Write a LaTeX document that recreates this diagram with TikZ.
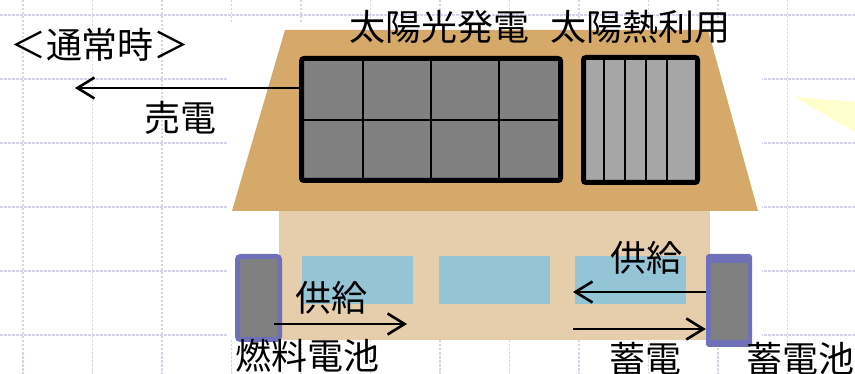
\documentclass[tikz,border=0pt]{standalone}
\usepackage{fontspec}
\newfontfamily\jpfont{Noto Sans CJK JP}
\usetikzlibrary{arrows.meta}
\definecolor{gridline}{RGB}{212,212,238}
\definecolor{roof}{RGB}{212,169,106}
\definecolor{wall}{RGB}{230,206,172}
\definecolor{glass}{RGB}{148,197,215}
\definecolor{cellrim}{RGB}{112,112,184}
\definecolor{cellbody}{RGB}{128,128,128}
\definecolor{pvgray}{RGB}{128,128,128}
\definecolor{heatgray}{RGB}{166,166,166}
\definecolor{beam}{RGB}{255,255,204}

\begin{document}
\begin{tikzpicture}[x=1pt,y=-1pt,
  lbl/.style={inner sep=0pt, font=\jpfont\fontsize{36}{40}\selectfont},
  flow/.style={line width=2.6pt, -{Straight Barb[length=17pt,width=21pt]}},
  gridln/.style={gridline, line width=1.6pt, dash pattern=on 2.5pt off 1.5pt},
  panel/.style={draw=black, line width=5pt, rounded corners=2.5pt, inner sep=0pt},
]
\path[use as bounding box] (0,0) rectangle (855,374);
\fill[white] (0,0) rectangle (855,374);

% notebook grid in the background
\foreach \x in {23,92.5,...,800} \draw[gridln] (\x,0) -- (\x,374);
\foreach \y in {15,79,...,340} \draw[gridln] (0,\y) -- (855,\y);

% white backing of the house illustration
\fill[white] (227,24) rectangle (762,340);

% sunbeam
\fill[beam] (795,97) -- (855,102) -- (855,132) -- cycle;

% house body, windows and roof
\fill[wall] (279,211) rectangle (710,340);
\foreach \x in {302,438.5,575} \fill[glass] (\x,256) rectangle +(111,48);
\fill[roof] (285,30) -- (708,30) -- (758,211) -- (232,211) -- cycle;

% photovoltaic panel
\node[panel, fill=pvgray, minimum width=259pt, minimum height=122pt] (pv) at (431,119.5) {};
\foreach \x in {363,431,499} \draw[line width=2pt] (\x,58.5) -- (\x,180.5);
\draw[line width=2pt] (301.5,120) -- (560.5,120);

% solar thermal collector
\node[panel, fill=heatgray, minimum width=114pt, minimum height=125pt] (heat) at (640.5,120) {};
\foreach \x in {604,625,646,667} \draw[line width=2.6pt] (\x,57.5) -- (\x,182.5);

% fuel cell
\node[draw=cellrim, fill=cellbody, line width=5pt, rounded corners=3pt, inner sep=0pt,
      minimum width=42pt, minimum height=83pt] (fc) at (258.5,298) {};

% storage battery
\node[fill=cellrim, rounded corners=3pt, inner sep=0pt,
      minimum width=46pt, minimum height=93pt] (bat) at (729,300.5) {};
\fill[cellbody] (711,263) rectangle (748,340);

% energy flows
\coordinate (sellend) at (75,88);
\draw[flow] (pv.west |- sellend) -- (sellend);
\coordinate (fcout) at (407,324);
\draw[flow] ([xshift=-8pt]fc.east |- fcout) -- (fcout);
\coordinate (batout) at (573,292);
\draw[flow] (bat.west |- batout) -- (batout);
\coordinate (batin) at (573,329);
\draw[flow] (batin) -- (bat.west |- batin);

% labels
\node[lbl] (mode) at (100,45) {＜通常時＞};
\node[lbl] (pvlbl) at (439.5,27) {太陽光発電};
\node[lbl] (heatlbl) at (640,27) {太陽熱利用};
\node[lbl] (selllbl) at (180.5,117.5) {売電};
\node[lbl] (supl) at (331,297.5) {供給};
\node[lbl] (supr) at (646,257.5) {供給};
\node[lbl] (fclbl) at (307.5,355.5) {燃料電池};
\node[lbl] (chglbl) at (645,358.5) {蓄電};
\node[lbl] (batlbl) at (800,358.5) {蓄電池};
\end{tikzpicture}
\end{document}
